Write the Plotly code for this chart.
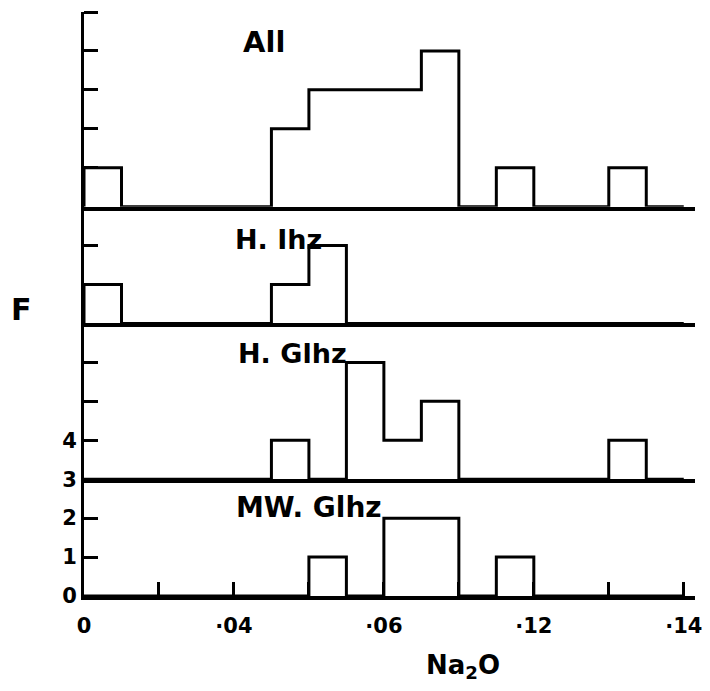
import plotly.graph_objects as go
from plotly.subplots import make_subplots

# ---- data ----
bin_width = 0.5          # bins of half a major x-division
panel_names = ["All", "H. Ihz", "H. Glhz", "MW. Glhz"]
counts_all = [1, 0, 0, 0, 0, 2, 3, 3, 3, 4, 0, 1, 0, 0, 1, 0]
counts_h_ihz = [1, 0, 0, 0, 0, 1, 2, 0, 0, 0, 0, 0, 0, 0, 0, 0]
counts_h_glhz = [0, 0, 0, 0, 0, 1, 0, 3, 1, 2, 0, 0, 0, 0, 1, 0]
counts_mw_glhz = [0, 0, 0, 0, 0, 0, 1, 0, 2, 2, 0, 1, 0, 0, 0, 0]
panel_counts = [counts_all, counts_h_ihz, counts_h_glhz, counts_mw_glhz]
panel_ymax = [5, 3, 4, 3]

x_major_vals = [0, 2, 4, 6, 8]
x_major_text = ["0", "·04", "·06", "·12", "·14"]
x_minor_vals = [1, 3, 5, 7]

# labelled tick values, their labels, unlabelled tick values per panel
y_major_vals = [[], [], [0, 1], [0, 1, 2]]
y_major_text = [[], [], ["3", "4"], ["0", "1", "2"]]
y_minor_vals = [[1, 2, 3, 4, 5], [1, 2], [2, 3], []]

# label positions (data units inside each panel)
label_pos = [(2.4, 4.24, 29), (2.6, 2.15, 27), (2.78, 3.24, 27), (3.0, 2.28, 28)]

FONT = "DejaVu Sans"

fig = make_subplots(rows=4, cols=1, shared_xaxes=True, vertical_spacing=0,
                    row_heights=panel_ymax)


def step_outline(counts):
    xs, ys = [0.0], [0.0]
    for i, c in enumerate(counts):
        xs += [i * bin_width, (i + 1) * bin_width]
        ys += [c, c]
    xs.append(len(counts) * bin_width)
    ys.append(0)
    return xs, ys


tick_font = dict(family=FONT, size=21, color="black", weight=700)

for r, counts in enumerate(panel_counts, start=1):
    xs, ys = step_outline(counts)
    fig.add_trace(go.Scatter(x=xs, y=ys, mode="lines",
                             line=dict(color="black", width=3),
                             showlegend=False, hoverinfo="skip", cliponaxis=False),
                  row=r, col=1)
    i = r - 1
    fig.update_yaxes(range=[0, panel_ymax[i]], showgrid=False, zeroline=False,
                     showline=True, linecolor="black", linewidth=3, automargin=False,
                     ticks="inside" if y_major_vals[i] else "", ticklen=14, tickwidth=3,
                     tickcolor="black",
                     tickmode="array", tickvals=y_major_vals[i], ticktext=y_major_text[i],
                     showticklabels=bool(y_major_vals[i]),
                     tickfont=tick_font,
                     minor=dict(tickmode="array", tickvals=y_minor_vals[i], ticks="inside",
                                ticklen=14, tickwidth=3, tickcolor="black", showgrid=False),
                     row=r, col=1)
    fig.update_xaxes(range=[0, 8.15], showgrid=False, zeroline=False, automargin=False,
                     showline=True, linecolor="black", linewidth=4,
                     row=r, col=1)
    lx, ly, fs = label_pos[i]
    yref = "y" if r == 1 else f"y{r}"
    xref = "x" if r == 1 else f"x{r}"
    fig.add_annotation(x=lx, y=ly, xref=xref, yref=yref, text=f"<b>{panel_names[i]}</b>",
                       showarrow=False, font=dict(family=FONT, size=fs, color="black"))

for r in (1, 2, 3):
    fig.update_xaxes(showticklabels=False, ticks="", row=r, col=1)

fig.update_xaxes(ticks="inside", ticklen=14, tickwidth=3, tickcolor="black",
                 tickmode="array", tickvals=x_major_vals, ticktext=x_major_text,
                 showticklabels=True, tickfont=tick_font, ticklabelstandoff=8,
                 ticklabeloverflow="allow",
                 minor=dict(tickmode="array", tickvals=x_minor_vals, ticks="inside",
                            ticklen=14, tickwidth=3, tickcolor="black", showgrid=False),
                 row=4, col=1)

fig.add_annotation(x=0.62, y=-0.152, xref="paper", yref="paper",
                   text="<b>Na<sub>2</sub>O</b>", showarrow=False,
                   font=dict(family=FONT, size=26, color="black"))
fig.add_annotation(x=-0.122, y=0.49, xref="paper", yref="paper",
                   text="<b>F</b>", showarrow=False,
                   font=dict(family=FONT, size=30, color="black"))

# the page adds an 8px body margin; keep the figure small enough to avoid scrollbars
fig.update_layout(width=694, height=675,
                  margin=dict(l=76, r=7, t=4, b=87, autoexpand=False),
                  plot_bgcolor="white", paper_bgcolor="white")

fig.write_html("out.html")
